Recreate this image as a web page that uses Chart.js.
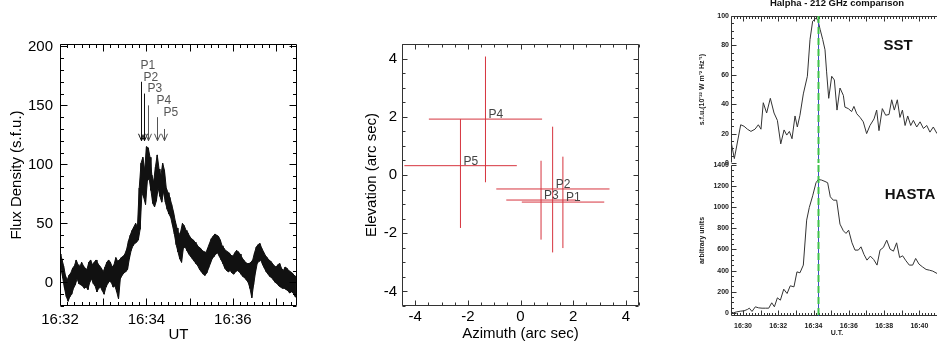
<!DOCTYPE html>
<html><head><meta charset="utf-8">
<script src="https://cdn.jsdelivr.net/npm/chart.js@4.4.1/dist/chart.umd.min.js"></script>
<style>
html,body{margin:0;padding:0;background:#fff;overflow:hidden;width:937px;height:347px;position:relative;}
canvas{position:absolute;}
#c1{left:0;top:0;}
#c2{left:355px;top:0;}
#c3{left:690px;top:0;}
#c4{left:690px;top:150px;}
</style></head><body>
<canvas id="c1" width="310" height="347"></canvas>
<canvas id="c2" width="295" height="347"></canvas>
<canvas id="c3" width="294" height="175"></canvas>
<canvas id="c4" width="294" height="197"></canvas>
<script>
// ---------- Panel 1: 212 GHz flux density (s.f.u.), samples every 2.5 s from 16:32:00 UT ----------
const fluxSampleSec = 2.5;
const fluxUpper = [24,20,14,6,2,6,8,12,14,19,
 15,13,17,14,12,11,17,19,15,17,
 19,16,14,12,9,13,17,19,17,13,
 15,21,18,19,21,22,24,28,35,40,
 44,47,50,47,80,101,106,95,115,114,
 106,91,85,98,108,96,90,101,95,80,
 76,72,66,60,52,46,40,43,50,48,
 44,42,39,37,36,34,32,30,29,27,
 26,25,29,33,37,39,41,40,39,36,
 31,29,27,26,25,23,22,25,27,26,
 24,21,19,17,16,16,17,19,25,30,
 32,33,29,26,23,21,19,18,16,14,
 13,15,16,12,10,13,12,10,9,8,
 6,5];
const fluxLower = [12,4,-5,-12,-16,-12,-10,-5,-2,3,
 -1,-2,-3,-5,-4,-6,0,3,-1,-3,
 -8,-5,-4,-7,-10,-4,-1,1,0,-4,
 -3,-8,-14,3,6,8,9,11,20,27,
 31,33,34,36,45,76,72,66,86,88,
 78,67,64,69,80,73,68,77,68,62,
 58,55,48,41,32,26,20,17,29,30,
 27,24,22,20,18,16,14,11,9,7,
 6,8,12,16,20,22,24,25,22,19,
 16,12,10,9,10,8,7,9,10,9,
 7,5,4,2,0,-5,-13,-2,8,16,
 18,19,15,12,9,7,5,4,2,0,
 -1,-3,-4,-5,-5,-6,-7,-9,-8,-9,
 -12,-13];
const arrowLabels = ['P1','P2','P3','P4','P5'];
const arrowTimeSec = [113, 116.5, 122.5, 134.5, 144.5];
const arrowTopFlux = [170, 160, 150, 140, 130];
const arrowTipFlux = 120;
const p1TickSec = [0, 120, 240];
const p1TickLabels = ['16:32', '16:34', '16:36'];
const p1YTicks = [0, 50, 100, 150, 200];

// ---------- Panel 2: source positions with error bars (arc sec) ----------
const srcLabels = ['P1','P2','P3','P4','P5'];
const srcAz   = [1.61, 1.22, 0.78, -1.33, -2.28];
const srcEl   = [-0.93, -0.48, -0.86, 1.92, 0.32];
const srcAzLo = [0.05, -0.92, -0.54, -3.48, -4.41];
const srcAzHi = [3.18, 3.38, 2.11, 0.82, -0.14];
const srcElLo = [-2.51, -2.66, -2.22, -0.25, -1.82];
const srcElHi = [0.63, 1.66, 0.49, 4.07, 1.92];
const p2Ticks = [-4, -2, 0, 2, 4];

// ---------- Panel 3: Halpha (SST) vs 212 GHz (HASTA), minutes after 16:30 UT ----------
const sstMin = [-0.70,-0.49,-0.13,0.06,0.25,0.45,0.68,0.87,1.02,1.15,
 1.34,1.55,1.76,1.95,2.14,2.33,2.48,2.63,2.78,2.95,
 3.08,3.23,3.42,3.65,3.80,3.95,4.14,4.25,4.37,4.52,
 4.65,4.74,4.86,5.03,5.18,5.33,5.50,5.69,5.78,5.97,
 6.16,6.29,6.45,6.64,6.82,7.01,7.20,7.43,7.58,7.71,
 7.90,8.09,8.28,8.43,8.58,8.75,8.90,9.04,9.19,9.34,
 9.51,9.66,9.85,10.04,10.23,10.42,10.60,10.79,11.00];
const sstFlux = [16,3,26,25,23,21.5,23,26,23,41,
 34,44,34,29,13,22.5,19,21.5,16.5,32,
 24.5,32.5,47,59,84,96.5,98.5,97,91,84,
 77,62,44,59,56.5,36,51,46,38,37,
 35,38.5,33.5,31,28,20,25.5,30,36,22,
 37,32.5,33,43,36,43,31,36,25.5,32,
 25.5,29,24.5,28,23.5,25.5,21,24.5,20];
const hastaMin = [-0.70,-0.55,-0.36,-0.13,0.06,0.25,0.36,0.51,0.70,0.89,
 1.08,1.27,1.46,1.63,1.78,1.95,2.12,2.31,2.50,2.68,
 2.89,3.06,3.23,3.42,3.61,3.76,3.95,4.14,4.27,4.46,
 4.65,4.80,4.95,5.12,5.31,5.50,5.69,5.84,5.99,6.18,
 6.35,6.54,6.69,6.86,7.03,7.22,7.41,7.60,7.77,7.96,
 8.15,8.34,8.53,8.71,8.88,9.05,9.24,9.43,9.62,9.79,
 9.98,10.17,10.38,10.57,10.76,11.00];
const hastaUnits = [9,0,9,16,19,32,44,13,57,47,
 44,44,44,95,57,142,120,224,183,256,
 246,388,379,452,878,998,1108,1232,1263,1257,
 1244,1232,1099,1067,1067,840,777,752,783,663,
 594,594,625,553,499,537,505,452,594,619,
 688,603,584,663,524,540,493,452,452,515,
 461,436,411,404,395,373];
const peakMarkMin = 4.23;
const p3TickMin = [0, 2, 4, 6, 8, 10];
const p3TickLabels = ['16:30','16:32','16:34','16:36','16:38','16:40'];
const sstYTicks = [0, 20, 40, 60, 80, 100];
const hastaYTicks = [0, 200, 400, 600, 800, 1000, 1200, 1400];

// ---------- helpers / plugins ----------
Chart.defaults.font.family = "'Liberation Sans', Arial, Helvetica, sans-serif";
Chart.defaults.color = '#000';
Chart.defaults.animation = false;
Chart.defaults.responsive = false;
Chart.defaults.plugins.legend.display = false;
Chart.defaults.plugins.tooltip.enabled = false;
Chart.defaults.elements.point.radius = 0;
Chart.defaults.elements.line.tension = 0;

const fixW = w => s => { s.width = w; };
const fixH = h => s => { s.height = h; };
const setTicks = vals => s => { s.ticks = vals.map(v => ({value: v})); };
const plain = v => String(v);

const frameTicks = {
  id: 'frameTicks',
  afterDatasetsDraw(chart, _a, o) {
    const {ctx, chartArea: a} = chart;
    const L = Math.round(a.left) + 0.5, R = Math.round(a.right) - 0.5;
    const T = Math.round(a.top) + 0.5, B = Math.round(a.bottom) - 0.5;
    ctx.save();
    ctx.strokeStyle = o.color || '#000';
    ctx.lineWidth = 1;
    ctx.beginPath();
    if (o.box.includes('left'))   { ctx.moveTo(L, T); ctx.lineTo(L, B); }
    if (o.box.includes('right'))  { ctx.moveTo(R, T); ctx.lineTo(R, B); }
    if (o.box.includes('top'))    { ctx.moveTo(L, T); ctx.lineTo(R, T); }
    if (o.box.includes('bottom')) { ctx.moveTo(L, B); ctx.lineTo(R, B); }
    ctx.stroke();
    for (const ax of o.axes) {
      const s = chart.scales[ax.id];
      ctx.beginPath();
      for (let k = 0; ; k++) {
        const v = ax.start + k * ax.step;
        if (v > s.max + 1e-9) break;
        if (v < s.min - 1e-9) continue;
        const r = v / ax.majorStep;
        const len = Math.abs(r - Math.round(r)) < 1e-6 ? ax.majorLen : ax.minorLen;
        const p = Math.round(s.getPixelForValue(v)) + 0.5;
        for (const side of ax.sides) {
          if (side === 'bottom') { ctx.moveTo(p, B); ctx.lineTo(p, B - len); }
          if (side === 'top')    { ctx.moveTo(p, T); ctx.lineTo(p, T + len); }
          if (side === 'left')   { ctx.moveTo(L, p); ctx.lineTo(L + len, p); }
          if (side === 'right')  { ctx.moveTo(R, p); ctx.lineTo(R - len, p); }
        }
      }
      ctx.stroke();
    }
    ctx.restore();
  }
};

const arrowPlugin = {
  id: 'arrows',
  afterDatasetsDraw(chart, _a, o) {
    const {ctx} = chart, xs = chart.scales.x, ys = chart.scales.y;
    ctx.save();
    ctx.lineWidth = 1;
    arrowLabels.forEach((lab, i) => {
      const x = Math.round(xs.getPixelForValue(arrowTimeSec[i])) + 0.5;
      const y0 = ys.getPixelForValue(arrowTopFlux[i]);
      const y1 = ys.getPixelForValue(arrowTipFlux);
      ctx.strokeStyle = i < 2 ? '#111' : '#555';
      ctx.beginPath();
      ctx.moveTo(x, y0); ctx.lineTo(x, y1);
      ctx.moveTo(x - 3, y1 - 7); ctx.lineTo(x, y1); ctx.lineTo(x + 3, y1 - 7);
      ctx.stroke();
      ctx.fillStyle = '#555';
      ctx.font = o.font;
      ctx.textAlign = 'left';
      ctx.textBaseline = 'alphabetic';
      ctx.fillText(lab, x - 1, y0 - 13);
    });
    ctx.restore();
  }
};

const srcLabelPlugin = {
  id: 'srcLabels',
  afterDatasetsDraw(chart, _a, o) {
    const {ctx} = chart, xs = chart.scales.x, ys = chart.scales.y;
    ctx.save();
    ctx.fillStyle = '#444';
    ctx.font = o.font;
    ctx.textAlign = 'left';
    ctx.textBaseline = 'alphabetic';
    srcLabels.forEach((lab, i) => {
      ctx.fillText(lab, xs.getPixelForValue(srcAz[i]) + 3, ys.getPixelForValue(srcEl[i]) - 1);
    });
    ctx.restore();
  }
};

const canvasText = {
  id: 'canvasText',
  afterDraw(chart, _a, o) {
    const {ctx} = chart;
    ctx.save();
    for (const t of o.items) {
      ctx.font = t.font; ctx.fillStyle = t.color || '#000';
      ctx.textAlign = t.align || 'center'; ctx.textBaseline = t.baseline || 'middle';
      ctx.fillText(t.text, t.x, t.y);
    }
    ctx.restore();
  }
};

const markerLine = {
  id: 'markerLine',
  afterDatasetsDraw(chart) {
    const {ctx, chartArea: a} = chart;
    const x = Math.round(chart.scales.x.getPixelForValue(peakMarkMin)) + 0.5;
    ctx.save();
    ctx.strokeStyle = '#3a4fc0'; ctx.lineWidth = 1;
    ctx.beginPath(); ctx.moveTo(x, a.top); ctx.lineTo(x, a.bottom); ctx.stroke();
    ctx.strokeStyle = '#3fc24a'; ctx.lineWidth = 2; ctx.setLineDash([7, 4]);
    ctx.beginPath(); ctx.moveTo(x, a.top); ctx.lineTo(x, a.bottom); ctx.stroke();
    ctx.restore();
  }
};

const noGrid = {grid: {display: false, drawTicks: false}, border: {display: false}};

// ---------- Panel 1 ----------
const fluxZig = [];
fluxUpper.forEach((u, i) => {
  fluxZig.push({x: i * fluxSampleSec, y: u});
  fluxZig.push({x: (i + 0.5) * fluxSampleSec, y: fluxLower[i]});
});
new Chart(document.getElementById('c1'), {
  type: 'line',
  data: {datasets: [
    {data: fluxUpper.map((v, i) => ({x: i * fluxSampleSec, y: v})), borderColor: '#111', borderWidth: 1, fill: '+1', backgroundColor: '#111'},
    {data: fluxLower.map((v, i) => ({x: (i + 0.5) * fluxSampleSec, y: v})), borderColor: '#111', borderWidth: 1},
    {data: fluxZig, borderColor: '#000', borderWidth: 1}
  ]},
  options: {
    layout: {padding: {top: 44, right: 13, bottom: 0, left: 0}},
    scales: {
      x: {type: 'linear', min: 0, max: 329, ...noGrid,
          afterBuildTicks: setTicks(p1TickSec), afterFit: fixH(41),
          ticks: {autoSkip: false, maxRotation: 0, padding: 5, font: {size: 15},
                  callback: v => p1TickLabels[p1TickSec.indexOf(v)]},
          title: {display: true, text: 'UT', font: {size: 15}, padding: {top: 0, bottom: 3}}},
      y: {type: 'linear', min: -20, max: 202, ...noGrid,
          afterBuildTicks: setTicks(p1YTicks), afterFit: fixW(60),
          ticks: {autoSkip: false, padding: 7, font: {size: 15}, callback: plain},
          title: {display: true, text: 'Flux Density (s.f.u.)', font: {size: 15}, padding: {top: 8, bottom: 0}}}
    },
    plugins: {
      filler: {propagate: false},
      frameTicks: {box: ['left','right','top','bottom'], axes: [
        {id: 'x', start: 0, step: 10, majorStep: 60, minorLen: 3.5, majorLen: 7, sides: ['bottom','top']},
        {id: 'y', start: -20, step: 10, majorStep: 50, minorLen: 3.5, majorLen: 7, sides: ['left','right']}]},
      arrows: {font: "12px 'Liberation Sans', Arial, sans-serif"}
    }
  },
  plugins: [frameTicks, arrowPlugin]
});

// ---------- Panel 2 ----------
const crossSets = srcLabels.map((lab, i) => ({
  label: lab,
  data: [{x: srcAzLo[i], y: srcEl[i]}, {x: srcAzHi[i], y: srcEl[i]}, {x: srcAz[i], y: null},
         {x: srcAz[i], y: srcElLo[i]}, {x: srcAz[i], y: srcElHi[i]}],
  borderColor: 'rgb(214,52,62)', borderWidth: 1, pointRadius: 0, spanGaps: false
}));
new Chart(document.getElementById('c2'), {
  type: 'line',
  data: {datasets: crossSets},
  options: {
    layout: {padding: {top: 44, right: 11, bottom: 0, left: 0}},
    scales: {
      x: {type: 'linear', min: -4.5, max: 4.5, ...noGrid,
          afterBuildTicks: setTicks(p2Ticks), afterFit: fixH(41),
          ticks: {autoSkip: false, maxRotation: 0, padding: 2, font: {size: 15}, callback: plain},
          title: {display: true, text: 'Azimuth (arc sec)', font: {size: 15}, padding: {top: 0, bottom: 4}}},
      y: {type: 'linear', min: -4.5, max: 4.5, ...noGrid,
          afterBuildTicks: setTicks(p2Ticks), afterFit: fixW(47),
          ticks: {autoSkip: false, padding: 5, font: {size: 15}, callback: plain},
          title: {display: true, text: 'Elevation (arc sec)', font: {size: 15}, padding: {top: 8, bottom: 0}}}
    },
    plugins: {
      frameTicks: {color: '#333', box: ['left','right','top','bottom'], axes: [
        {id: 'x', start: -4.5, step: 0.5, majorStep: 2, minorLen: 3, majorLen: 5, sides: ['bottom','top']},
        {id: 'y', start: -4.5, step: 0.5, majorStep: 2, minorLen: 3, majorLen: 5, sides: ['left','right']}]},
      srcLabels: {font: "12px 'Liberation Sans', Arial, sans-serif"}
    }
  },
  plugins: [frameTicks, srcLabelPlugin]
});

// ---------- Panel 3 (upper: SST) ----------
const p3Font = {size: 7, weight: 'bold'};
new Chart(document.getElementById('c3'), {
  type: 'line',
  data: {datasets: [{data: sstMin.map((m, i) => ({x: m, y: sstFlux[i]})), borderColor: '#333', borderWidth: 1, pointRadius: 0}]},
  options: {
    layout: {padding: {top: 16, right: 41, bottom: 12, left: 0}},
    scales: {
      x: {type: 'linear', min: -0.68, max: 11.34, display: false},
      y: {type: 'linear', min: 0, max: 100, ...noGrid,
          afterBuildTicks: setTicks(sstYTicks), afterFit: fixW(41),
          ticks: {autoSkip: false, padding: 2, font: p3Font, color: '#222', callback: plain},
          title: {display: true, text: 's.f.u.(10\u207B\u00B2\u00B2 W m\u207B\u00B2 Hz\u207B\u00B9)', font: p3Font, color: '#222', padding: {top: 8, bottom: 0}}}
    },
    plugins: {
      frameTicks: {color: '#333', box: ['left','top','right'], axes: [
        {id: 'x', start: -0.5, step: 1/6, majorStep: 1, minorLen: 2.5, majorLen: 5, sides: ['top']},
        {id: 'y', start: 0, step: 5, majorStep: 20, minorLen: 2.5, majorLen: 5, sides: ['left']}]},
      canvasText: {items: [
        {text: 'Halpha - 212 GHz comparison', x: 147, y: 5.5, baseline: 'alphabetic', font: "bold 9.5px 'Liberation Sans', Arial, sans-serif", color: '#111'},
        {text: 'SST', x: 208, y: 46, font: "bold 15px 'Liberation Sans', Arial, sans-serif", color: '#111'}]}
    }
  },
  plugins: [frameTicks, markerLine, canvasText]
});

// ---------- Panel 3 (lower: HASTA) ----------
new Chart(document.getElementById('c4'), {
  type: 'line',
  data: {datasets: [{data: hastaMin.map((m, i) => ({x: m, y: hastaUnits[i]})), borderColor: '#333', borderWidth: 1, pointRadius: 0}]},
  options: {
    layout: {padding: {top: 15, right: 41, bottom: 0, left: 0}},
    scales: {
      x: {type: 'linear', min: -0.68, max: 11.34, ...noGrid,
          afterBuildTicks: setTicks(p3TickMin), afterFit: fixH(31),
          ticks: {autoSkip: false, maxRotation: 0, padding: 6, font: p3Font, color: '#222',
                  callback: v => p3TickLabels[p3TickMin.indexOf(v)]},
          title: {display: true, text: 'U.T.', font: p3Font, color: '#222', padding: {top: 0, bottom: 10}}},
      y: {type: 'linear', min: -30, max: 1400, ...noGrid,
          afterBuildTicks: setTicks(hastaYTicks), afterFit: fixW(41),
          ticks: {autoSkip: false, padding: 2, font: p3Font, color: '#222', callback: plain},
          title: {display: true, text: 'arbitrary units', font: p3Font, color: '#222', padding: {top: 8, bottom: 0}}}
    },
    plugins: {
      frameTicks: {color: '#333', box: ['left','bottom','right'], axes: [
        {id: 'x', start: -0.5, step: 1/6, majorStep: 1, minorLen: 2.5, majorLen: 5, sides: ['bottom']},
        {id: 'y', start: 0, step: 50, majorStep: 200, minorLen: 2.5, majorLen: 5, sides: ['left']}]},
      canvasText: {items: [
        {text: 'HASTA', x: 220, y: 45, font: "bold 15px 'Liberation Sans', Arial, sans-serif", color: '#111'}]}
    }
  },
  plugins: [frameTicks, markerLine, canvasText]
});
</script>
</body></html>
